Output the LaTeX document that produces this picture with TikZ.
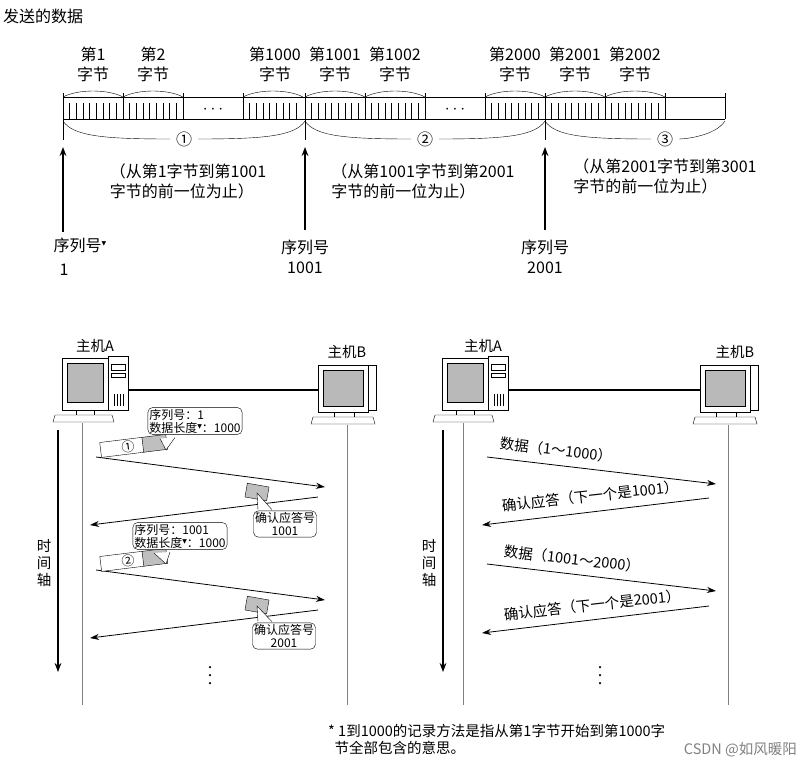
\documentclass[tikz,border=0pt]{standalone}
\usepackage{fontspec}
\setmainfont{Noto Sans CJK SC}
\newfontfamily\djv{DejaVu Sans}
\newcommand\mytri{\raisebox{0.6ex}{\djv\fontsize{6}{6}\selectfont ▼}}
\usetikzlibrary{arrows.meta}
\tikzset{
 big/.style={font=\fontsize{16}{20}\selectfont, align=center, inner sep=1pt},
 mid/.style={font=\fontsize{14.5}{17}\selectfont, align=center, inner sep=1pt},
 small/.style={font=\fontsize{12}{13}\selectfont, align=left, inner sep=1.5pt},
 msg/.style={thick,-{Stealth[length=9pt,width=6pt]}},
 life/.style={gray, line width=0.6pt},
 callout/.style={draw, rounded corners=5pt, fill=white, small},
 pkt/.style={draw, fill=gray!50},
 dot/.style={circle, fill, inner sep=0, minimum size=2.5pt},
 pics/compA/.style={code={
   \draw[fill=white] (0,0) rectangle (46,52);
   \draw[fill=gray!55] (5,5) rectangle (41,44);
   \draw[fill=white] (14,52) rectangle (32,57);
   \draw[fill=white] (-7,57) -- (50,57) -- (52,64) -- (-9,64) -- cycle;
   \draw[fill=white] (46,-2) rectangle (66,52);
   \draw (49,6) rectangle (63,12); \draw (49,15) rectangle (63,19);
   \foreach \i in {52,55,58,61} \draw (\i,36) -- (\i,48);
 }},
 pics/compB/.style={code={
   \draw[fill=white] (0,0) rectangle (50,47);
   \draw[fill=gray!55] (5,5) rectangle (45,41);
   \draw[fill=white] (50,0) rectangle (58,45);
   \draw[fill=white] (16,47) rectangle (36,52);
   \draw[fill=white] (-5,52) -- (55,52) -- (57,59) -- (-7,59) -- cycle;
 }}
}
\begin{document}
\begin{tikzpicture}[x=1pt,y=-1pt]
\useasboundingbox (0,0) rectangle (803,769);
\node[big, anchor=west] (title) at (2,16) {发送的数据};
% byte bar
\draw (63,97) -- (725,97) (63,119) -- (725,119);
\foreach \a in {63,123,243,305,365,485,545,605}{
  \pgfmathsetmacro\b{\a+60}
  \draw[thick] (\a,93) -- (\a,119);
  \draw (\a,97) .. controls (\a+15,89) and (\b-15,89) .. (\b,97);
  \foreach \k in {1,...,8} \draw (\a+\k*60/9,103) -- (\a+\k*60/9,119);
}
\foreach \a in {183,425,665,725} \draw[thick] (\a,93) -- (\a,119);
\node[big] (d1) at (213,110) {$\cdots$};
\node[big] (d2) at (455,110) {$\cdots$};
\foreach \x/\t in {93/第1,153/第2,275/第1000,335/第1001,395/第1002,515/第2000,575/第2001,635/第2002}
  \node[big] at (\x,64) {\t\\字节};
% braces
\draw (63,119) -- (63,140);
\draw (305,119) -- (305,140);
\draw (545,119) -- (545,140);
\foreach \a/\b/\m/\n in {63/305/184/①,305/545/425/②,545/725/665/③}{
  \node[big] (c\n) at (\m,139) {\n};
  \draw (\a,121) .. controls (\a+10,136) and (\a+40,139) .. (\m-14,139);
  \draw (\m+14,139) .. controls (\b-40,139) and (\b-10,136) .. (\b,121);
}
% sequence arrows
\node[big] (s1) at (80,245) {序列号\mytri};
\node[big] (s1n) at (64,270) {1};
\node[big] (s2) at (305,257) {序列号\\1001};
\node[big] (s3) at (545,257) {序列号\\2001};
\draw[line width=1.6pt,-{Stealth[length=9pt]}] (63,232) -- (63,147);
\draw[line width=1.6pt,-{Stealth[length=9pt]}] (305,230) -- (305,147);
\draw[line width=1.6pt,-{Stealth[length=9pt]}] (545,230) -- (545,147);
\node[big,align=left] (r1) at (188,181) {（从第1字节到第1001\\字节的前一位为止）};
\node[big,align=left] (r2) at (423,181) {（从第1001字节到第2001\\字节的前一位为止）};
\node[big,align=left] (r3) at (665,176) {（从第2001字节到第3001\\字节的前一位为止）};
% ---------- bottom left
\pic at (62,358) {compA};
\pic at (318,365) {compB};
\node[mid] (hA) at (95,346) {主机A};
\node[mid] (hB) at (347,352) {主机B};
\draw[line width=2.5pt] (128,390) -- (318,390);
\draw[life] (82,423) -- (82,705);
\draw[life] (347,425) -- (347,705);
\draw[line width=2pt,-{Stealth[length=9pt]}] (58,430) -- (58,672);
\node[mid] (tl) at (44,563) {时\\间\\轴};
\draw[msg] (96,457) -- (325,487);
\draw[msg] (318,497) -- (90,525);
\draw[msg] (96,570) -- (325,600);
\draw[msg] (318,610) -- (90,638);
\begin{scope}[rotate around={7:(133,447)}, transform shape]
 \node[draw, minimum width=43, minimum height=15, fill=white, inner sep=0] (p1w) at (122,446) {};
 \node[pkt, minimum width=24, minimum height=15, inner sep=0] (p1g) at (155,446) {};
 \node[font=\fontsize{13}{13}\selectfont, inner sep=0] at (128,446) {①};
\end{scope}
\begin{scope}[rotate around={7:(133,560)}, transform shape]
 \node[draw, minimum width=43, minimum height=15, fill=white, inner sep=0] (p2w) at (122,560) {};
 \node[pkt, minimum width=24, minimum height=15, inner sep=0] (p2g) at (155,560) {};
 \node[font=\fontsize{13}{13}\selectfont, inner sep=0] at (128,560) {②};
\end{scope}
\node[pkt, rotate=-10, minimum width=22, minimum height=14, inner sep=0] (a1) at (257,492) {};
\node[pkt, rotate=-10, minimum width=22, minimum height=14, inner sep=0] (a2) at (257,605) {};
\node[callout] (cb1) at (195,421) {序列号：1\\数据长度\mytri：1000};
\node[callout] (cb2) at (180,536) {序列号：1001\\数据长度\mytri：1000};
\node[callout, align=center] (cb3) at (285,524) {确认应答号\\1001};
\node[callout, align=center] (cb4) at (284,636) {确认应答号\\2001};
\draw[fill=white] (160,438.5) -- (166,450) -- (175,437.5);
\draw[fill=white] (154,553) -- (166,564) -- (170,552);
\draw[fill=white] (258,509.7) -- (257,493) -- (272,509.7);
\draw[fill=white] (258,621.7) -- (257,606) -- (272,621.7);
\foreach \y in {667,675,683} \node[dot] at (210,\y) {};
% ---------- bottom right
\pic at (442,358) {compA};
\pic at (700,365) {compB};
\node[mid] (hA2) at (483,346) {主机A};
\node[mid] (hB2) at (735,352) {主机B};
\draw[line width=2.5pt] (508,390) -- (700,390);
\draw[life] (463,423) -- (463,705);
\draw[life] (728,425) -- (728,705);
\draw[line width=2pt,-{Stealth[length=9pt]}] (443,430) -- (443,672);
\node[mid] (tr) at (429,563) {时\\间\\轴};
\draw[msg] (487,457) -- (716,484);
\draw[msg] (709,498) -- (482,525);
\draw[msg] (487,564) -- (716,591);
\draw[msg] (709,606) -- (482,633);
\node[mid, rotate=-6.7] at (556,450) {数据（1～1000）};
\node[mid, rotate=6.3] at (590,496) {确认应答（下一个是1001）};
\node[mid, rotate=-6.7] at (572,559) {数据（1001～2000）};
\node[mid, rotate=6.3] at (592,605) {确认应答（下一个是2001）};
\foreach \y in {667,675,683} \node[dot] at (600,\y) {};
% footnote
\node[mid, align=left, anchor=north west] (fn) at (327,723) {* 1到1000的记录方法是指从第1字节开始到第1000字\\\ \ 节全部包含的意思。};
\node[mid, text=gray, anchor=east] (wm) at (798,750) {CSDN @如风暖阳};
\end{tikzpicture}
\end{document}
